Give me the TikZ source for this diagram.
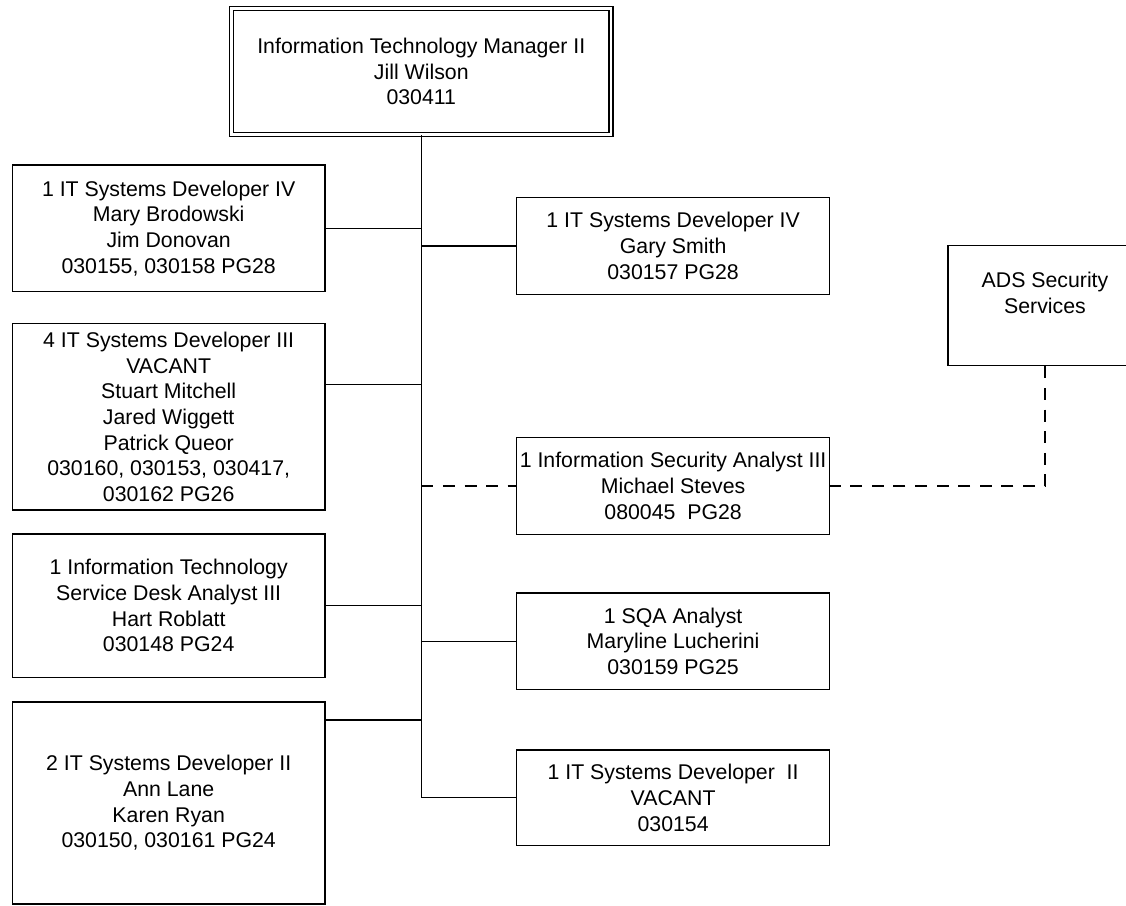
\documentclass[tikz,border=0pt]{standalone}
\usepackage{fontspec}
\usepackage{tikz}
\usetikzlibrary{positioning}
\newfontfamily\orgfamily{Liberation Sans}
\newcommand\orgfont{\orgfamily\fontsize{21.3}{25.7}\selectfont}

\begin{document}
\begin{tikzpicture}[x=1pt, y=-1pt,
  every node/.style = {shape=rectangle, draw, align=center,
    inner sep=0pt, line width=1.4pt, font=\orgfont},
  leftpost/.style = {minimum width=312.5pt},
  rightpost/.style = {minimum width=313pt, minimum height=96.5pt},
  link/.style = {draw, line width=1.3pt},
  dashlink/.style = {link, dash pattern=on 12pt off 9.6pt}
  ]
  \clip (0,0) rectangle (1126,905);
  \node (mgr) at (421.3,71.4) [double, double distance=2.6pt, line width=1.3pt,
    minimum width=379.4pt, minimum height=126.1pt]
    {Information Technology Manager II\\Jill Wilson\\030411};
  \node (dev4a) at (168.7,228.3) [leftpost, minimum height=126.7pt]
    {1 IT Systems Developer IV\\Mary Brodowski\\Jim Donovan\\030155, 030158 PG28};
  \node (dev3) at (168.7,416.8) [leftpost, minimum height=186.3pt]
    {4 IT Systems Developer III\\VACANT\\Stuart Mitchell\\Jared Wiggett\\Patrick Queor\\030160, 030153, 030417,\\030162 PG26};
  \node (sda) at (168.7,605.7) [leftpost, minimum height=143.3pt]
    {1 Information Technology\\Service Desk Analyst III\\Hart Roblatt\\030148 PG24};
  \node (dev2a) at (168.7,803) [leftpost, minimum height=202pt]
    {2 IT Systems Developer II\\Ann Lane\\Karen Ryan\\030150, 030161 PG24};
  \node (dev4b) at (673.1,246) [rightpost]
    {1 IT Systems Developer IV\\Gary Smith\\030157 PG28};
  \node (isa) at (673.1,486) [rightpost]
    {1 Information Security Analyst III\\Michael Steves\\080045~~PG28};
  \node (sqa) at (673.1,641.3) [rightpost]
    {1 SQA Analyst\\Maryline Lucherini\\030159 PG25};
  \node (dev2b) at (673.1,797.8) [rightpost, minimum height=95.7pt]
    {1 IT Systems Developer~~II\\VACANT\\030154};
  \node (ads) at (1045,305.7) [minimum width=194pt, minimum height=120pt]
    {ADS Security\\Services\\~};

  \draw[link] (mgr.south) |- (dev2b.west);
  \draw[link] (dev4a.east) -- (dev4a.east -| mgr.south);
  \draw[link] ([yshift=32.5pt]dev3.east) -- ([yshift=32.5pt]dev3.east -| mgr.south);
  \draw[link] (sda.east) -- (sda.east -| mgr.south);
  \draw[link] ([yshift=83pt]dev2a.east) -- ([yshift=83pt]dev2a.east -| mgr.south);
  \draw[link] (dev4b.west) -- (dev4b.west -| mgr.south);
  \draw[link] (sqa.west) -- (sqa.west -| mgr.south);
  \draw[dashlink] (isa.west -| mgr.south) -- (isa.west);
  \draw[dashlink] (ads.south) |- (isa.east);
\end{tikzpicture}
\end{document}
